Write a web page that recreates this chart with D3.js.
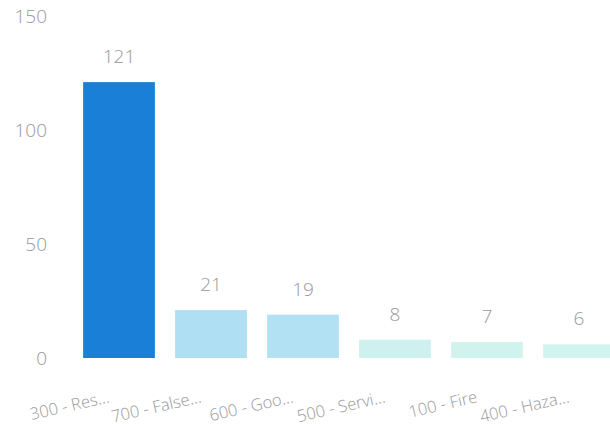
<!DOCTYPE html>
<html>
<head>
<meta charset="utf-8">
<script src="https://cdn.jsdelivr.net/npm/d3@7"></script>
<style>
  body { margin: 0; background: #fff; }
  text { font-family: "Open Sans", sans-serif; }
</style>
</head>
<body>
<svg id="chart" width="610" height="442"></svg>
<script>
// incident types and counts
const categories = ["300 - Res...", "700 - False...", "600 - Goo...", "500 - Servi...", "100 - Fire", "400 - Haza..."]
const counts = [121, 21, 19, 8, 7, 6]
const yTicks = [0, 50, 100, 150]

const svg = d3.select("#chart")

let xScale = d3.scaleBand()
  .domain(categories)
  .range([73, 625])
  .paddingInner(0.22)
  .paddingOuter(0.11)

let yScale = d3.scaleLinear()
  .domain([0, 150])
  .range([358, 16])

// saturation by value, like the original
let colour = d3.scaleLinear()
  .domain([6, 19, 121])
  .range(["#d3f4ee", "#b2e1f4", "#1a7fd6"])

let rows = categories.map((c, i) => ({ cat: c, n: counts[i] }))

// y axis labels, no line
let yAxis = d3.axisLeft(yScale).tickValues(yTicks).tickSize(0).tickPadding(0)
svg.append("g")
  .attr("transform", "translate(47,0)")
  .call(yAxis)
  .call(g => g.select(".domain").remove())
  .selectAll("text")
    .attr("font-size", 19)
    .attr("font-family", "Open Sans, sans-serif")
    .attr("font-weight", 300)
    .attr("fill", "#999")
    .attr("dy", "0.35em")

svg.selectAll("rect.bar").data(rows)
  .enter().append("rect")
    .attr("class", "bar")
    .attr("x", d => xScale(d.cat))
    .attr("y", d => yScale(d.n))
    .attr("width", xScale.bandwidth())
    .attr("height", d => yScale(0) - yScale(d.n))
    .attr("fill", d => colour(d.n))

// value labels
svg.selectAll("text.val").data(rows)
  .enter().append("text")
    .attr("class", "val")
    .attr("x", d => xScale(d.cat) + xScale.bandwidth() / 2)
    .attr("y", d => yScale(d.n) - 19)
    .attr("text-anchor", "middle")
    .attr("font-size", 19)
    .attr("font-weight", 300)
    .attr("fill", "#999")
    .text(d => d.n)

// category labels, tilted
let xAxis = d3.axisBottom(xScale).tickSize(0).tickPadding(0)
svg.append("g")
  .attr("transform", "translate(0,402)")
  .call(xAxis)
  .call(g => g.select(".domain").remove())
  .selectAll("text")
    .attr("font-size", 16.5)
    .attr("font-family", "Open Sans, sans-serif")
    .attr("font-weight", 300)
    .attr("fill", "#999")
    .attr("text-anchor", "end")
    .attr("dy", 0)
    .attr("transform", "translate(-9,0) rotate(-13)")
</script>
</body>
</html>
